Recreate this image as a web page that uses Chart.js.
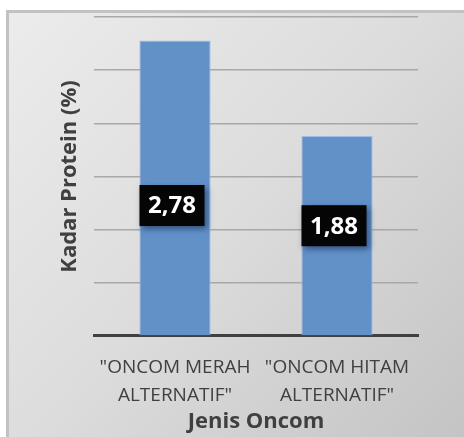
<!DOCTYPE html>
<html>
<head>
<meta charset="utf-8">
<script src="https://cdn.jsdelivr.net/npm/chart.js@4.4.1/dist/chart.umd.min.js"></script>
<style>
  html, body { margin: 0; padding: 0; background: #fff; }
  #wrap { width: 464px; height: 437px; position: relative; }
</style>
</head>
<body>
<div id="wrap"><canvas id="proteinChart"></canvas></div>
<script>
// data
const categories = [['"ONCOM MERAH', 'ALTERNATIF"'], ['"ONCOM HITAM', 'ALTERNATIF"']];
const kadarProtein = [2.78, 1.88];
const valueLabels = ['2,78', '1,88'];
// where the value box sits along each bar (fraction of bar height from the base)
const labelFraction = [0.44, 0.55];

// background panel with gradient + frame
const panelBg = {
    id: 'panelBg',
    beforeDraw(chart) {
        const ctx = chart.ctx;
        const w = chart.width, h = chart.height;
        ctx.save();
        ctx.fillStyle = '#ffffff';
        ctx.fillRect(0, 0, w, h);
        const g = ctx.createLinearGradient(6, 10, w, h);
        g.addColorStop(0, '#ececec');
        g.addColorStop(0.5, '#dcdcdc');
        g.addColorStop(1, '#c4c4c4');
        ctx.fillStyle = g;
        ctx.fillRect(6, 10, w - 6, h - 10);
        ctx.strokeStyle = '#c2c2c2';
        ctx.lineWidth = 3;
        ctx.beginPath();
        ctx.moveTo(7.5, h);
        ctx.lineTo(7.5, 11.5);
        ctx.lineTo(w, 11.5);
        ctx.stroke();
        ctx.restore();
    }
};

// black value boxes on the bars
const valueBoxes = {
    id: 'valueBoxes',
    afterDatasetsDraw(chart) {
        const ctx = chart.ctx;
        const meta = chart.getDatasetMeta(0);
        ctx.save();
        ctx.font = 'bold 24px "Open Sans", sans-serif';
        ctx.textAlign = 'center';
        ctx.textBaseline = 'middle';
        meta.data.forEach((bar, i) => {
            const cx = bar.x - 3;
            const cy = bar.base - (bar.base - bar.y) * labelFraction[i];
            const bw = 65, bh = 41;
            ctx.shadowColor = 'rgba(20, 40, 80, 0.6)';
            ctx.shadowBlur = 6;
            ctx.shadowOffsetX = 2;
            ctx.shadowOffsetY = 3;
            ctx.fillStyle = '#050505';
            ctx.fillRect(cx - bw / 2, cy - bh / 2, bw, bh);
            ctx.shadowColor = 'transparent';
            ctx.fillStyle = '#ffffff';
            ctx.fillText(valueLabels[i], cx, cy + 1);
        });
        ctx.restore();
    }
};

new Chart(document.getElementById('proteinChart'), {
    type: 'bar',
    data: {
        labels: categories,
        datasets: [{
            data: kadarProtein,
            backgroundColor: '#6291c8',
            borderColor: '#9dbde6',
            borderWidth: 1,
            barPercentage: 0.44,
            categoryPercentage: 1
        }]
    },
    options: {
        responsive: true,
        maintainAspectRatio: false,
        animation: false,
        layout: { padding: { left: 57, right: 46, top: 17, bottom: 4 } },
        plugins: { legend: { display: false }, tooltip: { enabled: false } },
        scales: {
            x: {
                grid: { display: false, drawTicks: false },
                border: { display: true, color: '#404040', width: 3 },
                ticks: {
                    color: '#404040',
                    font: { family: '"Open Sans", sans-serif', size: 19, lineHeight: 1.474 },
                    padding: 18,
                    maxRotation: 0
                },
                title: {
                    display: true,
                    text: 'Jenis Oncom',
                    color: '#404040',
                    font: { family: '"Open Sans", sans-serif', size: 22, weight: 'bold', lineHeight: 1 },
                    padding: { top: -17, bottom: 0 }
                }
            },
            y: {
                min: 0,
                max: 3,
                ticks: { display: false, stepSize: 0.5 },
                grid: { color: '#a8a8a8', lineWidth: 1.5, drawTicks: false },
                border: { display: false },
                title: {
                    display: true,
                    text: 'Kadar Protein (%)',
                    color: '#404040',
                    font: { family: '"Open Sans", sans-serif', size: 22, weight: 'bold', lineHeight: 1 },
                    padding: { top: 2, bottom: 13 }
                }
            }
        }
    },
    plugins: [panelBg, valueBoxes]
});
</script>
</body>
</html>
